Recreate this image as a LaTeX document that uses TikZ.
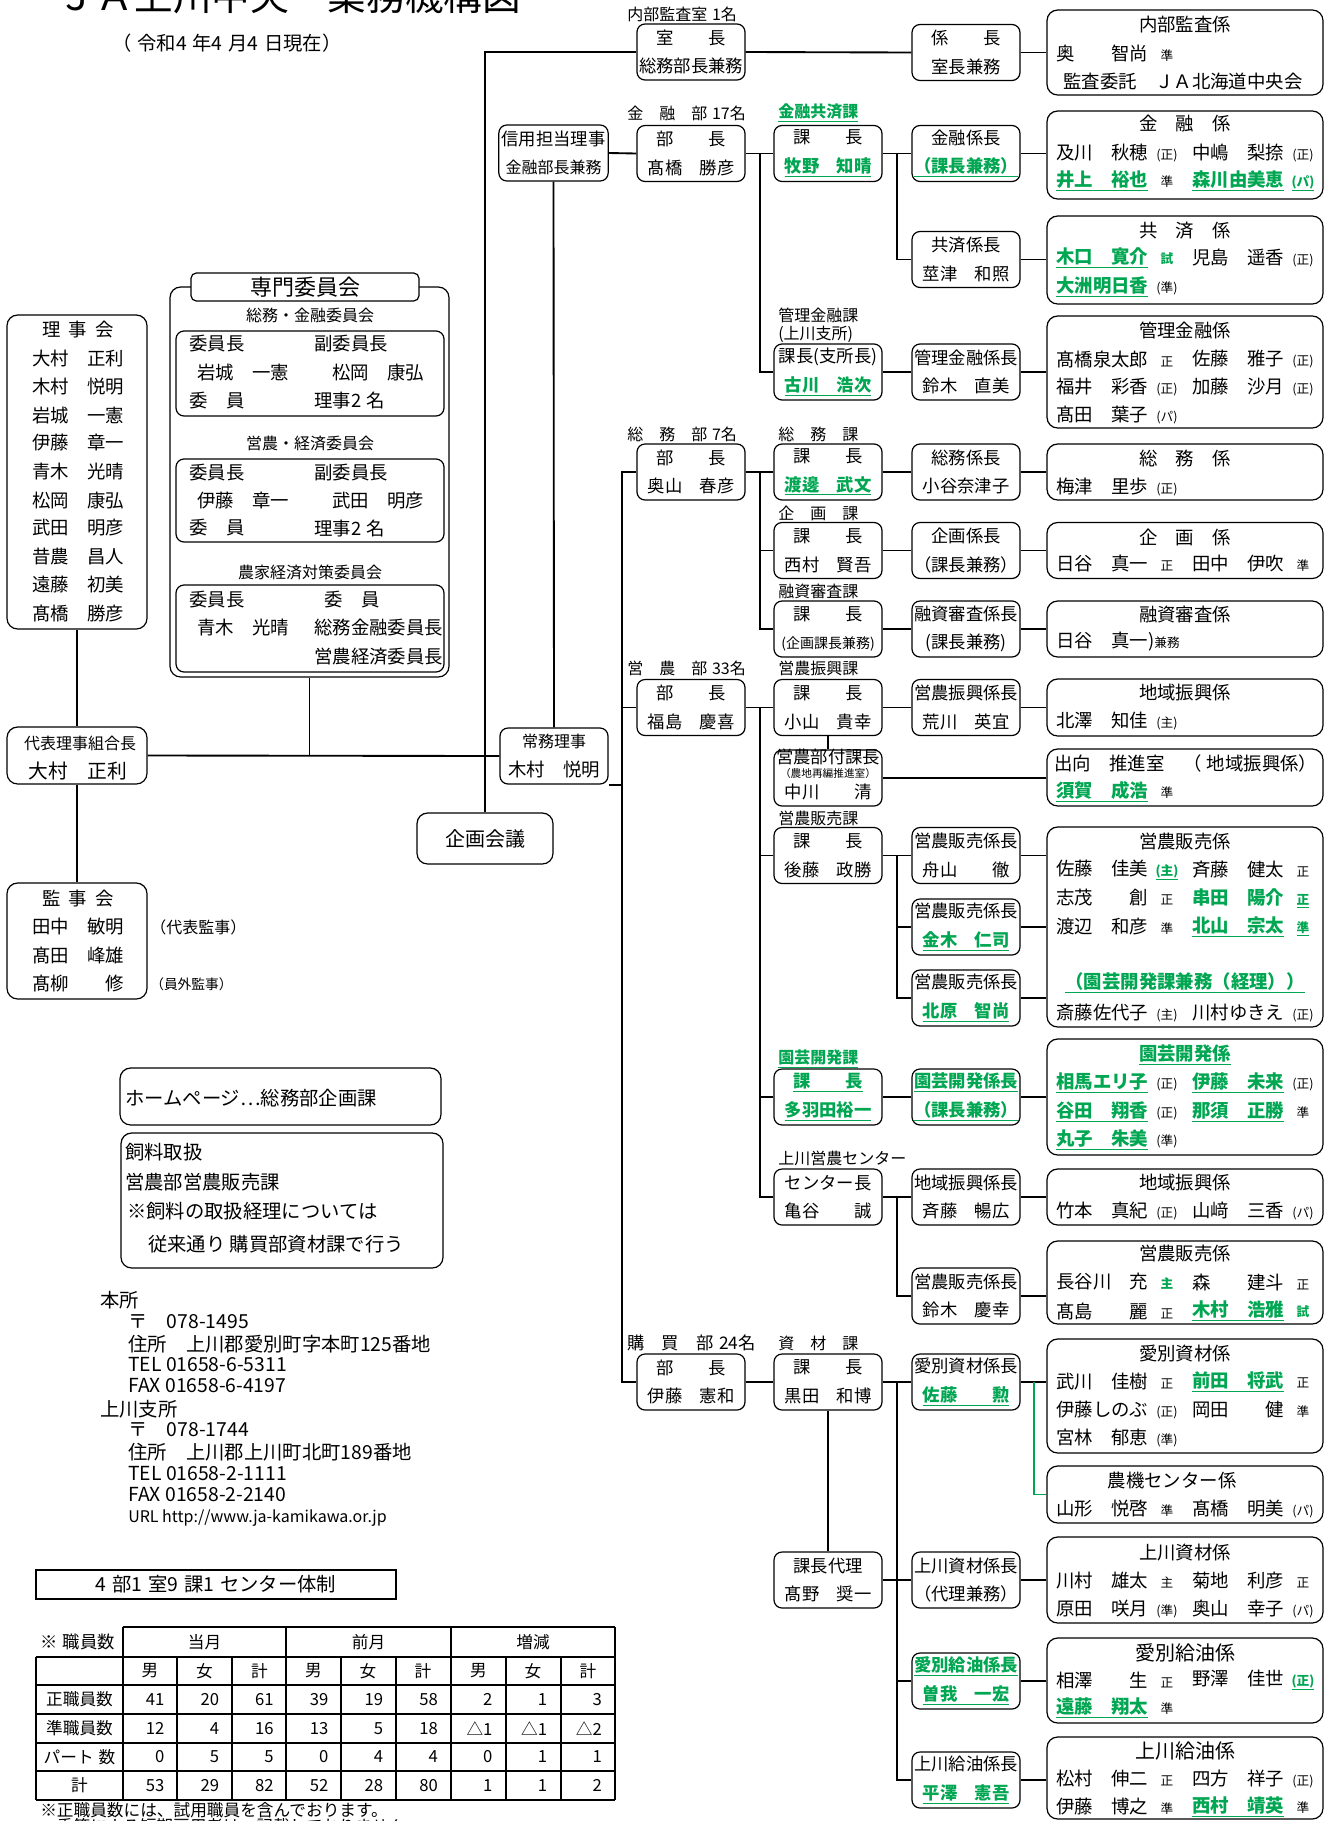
\documentclass[tikz,border=0pt]{standalone}
\usepackage{fontspec}
\setmainfont{Noto Sans CJK JP}
\newfontfamily\gfont{Noto Sans CJK JP}
\definecolor{jagreen}{RGB}{0,166,81}
\newcommand{\fbx}{\fontsize{13pt}{21.5pt}\selectfont}
\newcommand{\fnm}{\fontsize{13.8pt}{16pt}\selectfont}
\newcommand{\flb}{\fontsize{12pt}{14pt}\selectfont}
\newcommand{\fmk}{\fontsize{9.5pt}{10pt}\selectfont}
\newcommand{\ftx}{\fontsize{14.5pt}{16pt}\selectfont}
\newcommand{\ftb}{\fontsize{12.5pt}{14pt}\selectfont}
\newcommand{\gr}[1]{{\gfont\bfseries\color{jagreen}\underline{#1}}}
\newcommand{\gn}[1]{{\gfont\bfseries\color{jagreen}#1}}
\newcommand{\mk}[1]{\hspace{5pt}\makebox[18pt]{\fmk #1}}
\newcommand{\gap}{\hspace{0.3em}}
\begin{document}
\begin{tikzpicture}[x=0.75pt, y=-0.75pt,
    bx/.style={draw, line width=0.9pt, rounded corners=6pt, minimum width=81pt, minimum height=42pt, inner sep=0pt, align=center, font=\fbx},
    kk/.style={draw, line width=0.9pt, rounded corners=8pt, minimum width=207pt, inner sep=0pt},
    lf/.style={draw, line width=0.9pt, rounded corners=8pt, inner sep=0pt},
    nm/.style={anchor=west, inner sep=0pt, font=\fnm},
    ti/.style={inner sep=0pt, font=\fnm},
    lb/.style={anchor=west, inner sep=0pt, font=\flb},
    tx/.style={anchor=west, inner sep=0pt, font=\ftx},
    num/.style={anchor=east, inner sep=0pt, font=\ftb},
    ln/.style={line width=1.4pt},
    tb/.style={line width=0.8pt}]
    \useasboundingbox (0,0) rectangle (1329,1821);

    % title
    \node[anchor=west, inner sep=0pt, font=\fontsize{29pt}{29pt}\selectfont] (title) at (57,-4) {ＪＡ上川中央　業務機構図};
    \node[anchor=west, inner sep=0pt, font=\fontsize{14.5pt}{15pt}\selectfont] (date) at (112,43) {（\gap 令和4\gap 年4\gap 月4\gap 日現在）};

    % board
    \node[lf, minimum width=105pt, minimum height=235.5pt] (riji) at (77,472) {};
    \node[ti] (riji-t) at (78,330) {理\hspace{0.45em}事\hspace{0.45em}会};
    \node[ti] (riji-1) at (78,359) {大村　正利};
    \node[ti] (riji-2) at (78,387) {木村　悦明};
    \node[ti] (riji-3) at (78,416) {岩城　一憲};
    \node[ti] (riji-4) at (78,443) {伊藤　章一};
    \node[ti] (riji-5) at (78,472) {青木　光晴};
    \node[ti] (riji-6) at (78,501) {松岡　康弘};
    \node[ti] (riji-7) at (78,528) {武田　明彦};
    \node[ti] (riji-8) at (78,557) {昔農　昌人};
    \node[ti] (riji-9) at (78,585) {遠藤　初美};
    \node[ti] (riji-10) at (78,614) {髙橋　勝彦};

    \node[lf, minimum width=105pt, minimum height=42.75pt] (daihyo) at (77,755.5) {};
    \node[ti, font=\fontsize{12pt}{12pt}\selectfont] (daihyo-t) at (80,743) {代表理事組合長};
    \node[ti, font=\fontsize{14.8pt}{15pt}\selectfont] (daihyo-n) at (78,771) {大村　正利};

    \node[lf, minimum width=105pt, minimum height=87pt] (kanji) at (77,941) {};
    \node[ti] (kanji-t) at (78,899) {監\hspace{0.45em}事\hspace{0.45em}会};
    \node[ti] (kanji-1) at (78,927) {田中　敏明};
    \node[ti] (kanji-2) at (78,956) {髙田　峰雄};
    \node[ti] (kanji-3) at (78,984) {髙柳　　修};
    \node[anchor=west, inner sep=0pt, font=\fontsize{12pt}{12pt}\selectfont] (kanji-1n) at (150,927) {（代表監事）};
    \node[anchor=west, inner sep=0pt, font=\fontsize{10.3pt}{11pt}\selectfont] (kanji-3n) at (150,984) {（員外監事）};

    % committees
    \node[lf, minimum width=209.25pt, minimum height=292.5pt] (senmon) at (309.5,482) {};
    \node[draw, fill=white, line width=0.9pt, rounded corners=4pt, minimum width=171pt, minimum height=21pt, inner sep=0pt, font=\fontsize{16.5pt}{17pt}\selectfont] (senmon-t) at (305,287) {専門委員会};
    \node[ti, font=\flb] (iin1-t) at (310,315) {総務・金融委員会};
    \node[lf, rounded corners=6pt, minimum width=201pt, minimum height=63.75pt] (iin1) at (310,373.5) {};
    \node[nm] (iin1-a) at (189,344) {委員長};
    \node[nm] (iin1-b) at (314,344) {副委員長};
    \node[nm] (iin1-c) at (197,373) {岩城　一憲};
    \node[nm] (iin1-d) at (332,373) {松岡　康弘};
    \node[nm] (iin1-e) at (189,401) {委　員};
    \node[nm] (iin1-f) at (314,401) {理事2\gap 名};
    \node[ti, font=\flb] (iin2-t) at (310,443) {営農・経済委員会};
    \node[lf, rounded corners=6pt, minimum width=201pt, minimum height=62.25pt] (iin2) at (310,500.5) {};
    \node[nm] (iin2-a) at (189,473) {委員長};
    \node[nm] (iin2-b) at (314,473) {副委員長};
    \node[nm] (iin2-c) at (197,501) {伊藤　章一};
    \node[nm] (iin2-d) at (332,501) {武田　明彦};
    \node[nm] (iin2-e) at (189,528) {委　員};
    \node[nm] (iin2-f) at (314,528) {理事2\gap 名};
    \node[ti, font=\flb] (iin3-t) at (310,572) {農家経済対策委員会};
    \node[lf, rounded corners=6pt, minimum width=201pt, minimum height=65.25pt] (iin3) at (310,628.5) {};
    \node[nm] (iin3-a) at (189,600) {委員長};
    \node[nm] (iin3-b) at (324,600) {委　員};
    \node[nm] (iin3-c) at (197,628) {青木　光晴};
    \node[nm] (iin3-d) at (314,628) {総務金融委員長};
    \node[nm] (iin3-e) at (314,657) {営農経済委員長};

    % directors
    \node[bx, minimum width=82pt] (shinyo) at (553.5,153) {信用担当理事\\{\fontsize{12pt}{12pt}\selectfont 金融部長兼務}};
    \node[bx] (jomu) at (554,756) {{\fontsize{12pt}{12pt}\selectfont 常務理事}\\{\fnm 木村　悦明}};
    \node[lf, minimum width=102pt, minimum height=38.25pt, font=\fontsize{15pt}{15pt}\selectfont] (kaigi) at (485,838.5) {企画会議};
    \coordinate (spine) at (622,0);
    \coordinate (xa) at (760,0);
    \coordinate (xb) at (897,0);

    % internal audit
    \node[lb] (l-kansa) at (627,14) {内部監査室\gap 1名};
    \node[bx] (shitsu) at (691,52) {室　　長\\総務部長兼務};
    \node[bx] (kc0) at (966,52.5) {係　　長\\室長兼務};
    \node[kk, minimum height=63.75pt] (kansa) at (1185,52.5) {};
    \node[ti] (kansa-t) at (1185,25) {内部監査係};
    \node[nm] (kansa-1) at (1056,53) {奥　　智尚\mk{準}};
    \node[nm] (kansa-2) at (1063,82) {監査委託　ＪＡ北海道中央会};

    % finance
    \node[lb] (l-kin) at (627,113) {金　融　部\gap 17名};
    \node[lb] (l-kinka) at (778,113) {\gr{金融共済課}};
    \node[bx] (bu1) at (691,153.5) {部　　長\\髙橋　勝彦};
    \node[bx] (ka1) at (828,153.5) {課　　長\\\gr{牧野　知晴}};
    \node[bx] (kc1) at (966,153.5) {金融係長\\\gr{（課長兼務）}};
    \node[kk, minimum height=66pt] (kin) at (1185,155) {};
    \node[ti] (kin-t) at (1185,124) {金　融　係};
    \node[nm] (kin-1l) at (1056,153) {及川　秋穂\mk{(正)}};
    \node[nm] (kin-1r) at (1192,153) {中嶋　梨捺\mk{(正)}};
    \node[nm] (kin-2l) at (1056,181) {\gr{井上　裕也}\mk{準}};
    \node[nm] (kin-2r) at (1192,181) {\gr{森川由美恵}\mk{\gr{(パ)}}};

    \node[bx] (kc2) at (966,259.5) {共済係長\\莖津　和照};
    \node[kk, minimum height=66pt] (kyo) at (1185,260) {};
    \node[ti] (kyo-t) at (1185,231) {共　済　係};
    \node[nm] (kyo-1l) at (1056,258) {\gr{木口　寛介}\mk{\gn{試}}};
    \node[nm] (kyo-1r) at (1192,258) {児島　遥香\mk{(正)}};
    \node[nm] (kyo-2l) at (1056,287) {\gr{大洲明日香}\mk{(準)}};

    \node[lb] (l-kanri) at (778,315) {管理金融課};
    \node[lb] (l-kanri2) at (778,334) {(上川支所)};
    \node[bx] (ka3) at (828,372) {課長(支所長)\\\gr{古川　浩次}};
    \node[bx] (kc3) at (966,372) {管理金融係長\\鈴木　直美};
    \node[kk, minimum height=84pt] (kanri) at (1185,372) {};
    \node[ti] (kanri-t) at (1185,330) {管理金融係};
    \node[nm] (kanri-1l) at (1056,359) {髙橋泉太郎\mk{正}};
    \node[nm] (kanri-1r) at (1192,359) {佐藤　雅子\mk{(正)}};
    \node[nm] (kanri-2l) at (1056,387) {福井　彩香\mk{(正)}};
    \node[nm] (kanri-2r) at (1192,387) {加藤　沙月\mk{(正)}};
    \node[nm] (kanri-3l) at (1056,415) {髙田　葉子\mk{(パ)}};

    % general affairs
    \node[lb] (l-somu) at (627,434) {総　務　部\gap 7名};
    \node[lb] (l-somuka) at (778,434) {総　務　課};
    \node[bx] (bu4) at (691,472) {部　　長\\奥山　春彦};
    \node[bx] (ka4) at (828,472) {課　　長\\\gr{渡邊　武文}};
    \node[bx] (kc4) at (966,472) {総務係長\\小谷奈津子};
    \node[kk, minimum height=42pt] (somu) at (1185,472) {};
    \node[ti] (somu-t) at (1185,458) {総　務　係};
    \node[nm] (somu-1l) at (1056,487) {梅津　里歩\mk{(正)}};

    \node[lb] (l-kiku) at (778,513) {企　画　課};
    \node[bx] (ka5) at (828,550.5) {課　　長\\西村　賢吾};
    \node[bx] (kc5) at (966,550.5) {企画係長\\（課長兼務）};
    \node[kk, minimum height=42pt] (kiku) at (1185,550.5) {};
    \node[ti] (kiku-t) at (1185,537) {企　画　係};
    \node[nm] (kiku-1l) at (1056,564) {日谷　真一\mk{正}};
    \node[nm] (kiku-1r) at (1192,564) {田中　伊吹\mk{準}};

    \node[lb] (l-yushi) at (778,591) {融資審査課};
    \node[bx] (ka6) at (828,629) {課　　長\\{\fontsize{10.5pt}{10.5pt}\selectfont (企画課長兼務)}};
    \node[bx] (kc6) at (966,629) {融資審査係長\\(課長兼務)};
    \node[kk, minimum height=42pt] (yushi) at (1185,629) {};
    \node[ti] (yushi-t) at (1185,615) {融資審査係};
    \node[nm] (yushi-1l) at (1056,642) {日谷　真一){\fmk 兼務}};

    % farming
    \node[lb] (l-eino) at (627,668) {営　農　部\gap 33名};
    \node[lb] (l-shinko) at (778,668) {営農振興課};
    \node[bx] (bu7) at (691,707.5) {部　　長\\福島　慶喜};
    \node[bx] (ka7) at (828,707.5) {課　　長\\小山　貴幸};
    \node[bx] (kc7) at (966,707.5) {営農振興係長\\荒川　英宜};
    \node[kk, minimum height=42.75pt] (chiiki) at (1185,707.5) {};
    \node[ti] (chiiki-t) at (1185,693) {地域振興係};
    \node[nm] (chiiki-1l) at (1056,721) {北澤　知佳\mk{(主)}};

    \node[lf, rounded corners=6pt, minimum width=81pt, minimum height=42pt] (ka8) at (828,778) {};
    \node[ti, font=\fbx] (ka8-t) at (828,757) {営農部付課長};
    \node[ti, font=\fontsize{8pt}{8pt}\selectfont] (ka8-s) at (828,773) {（農地再編推進室）};
    \node[ti, font=\fbx] (ka8-n) at (828,792) {中川　　清};
    \node[kk, minimum height=42.75pt] (shukko) at (1185,777.5) {};
    \node[nm] (shukko-1) at (1054,763) {出向　推進室　（\gap 地域振興係）};
    \node[nm] (shukko-2) at (1056,792) {\gr{須賀　成浩}\mk{準}};

    \node[lb] (l-hanbai) at (778,818) {営農販売課};
    \node[bx] (ka9) at (828,855.5) {課　　長\\後藤　政勝};
    \node[bx] (kc9) at (966,855.5) {営農販売係長\\舟山　　徹};
    \node[bx] (kc9b) at (966,927) {営農販売係長\\\gr{金木　仁司}};
    \node[bx] (kc9c) at (966,998) {営農販売係長\\\gr{北原　智尚}};
    \node[kk, minimum height=150pt] (hanbai) at (1185,927) {};
    \node[ti] (hanbai-t) at (1185,842) {営農販売係};
    \node[nm] (hanbai-1l) at (1056,870) {佐藤　佳美\mk{\gr{(主)}}};
    \node[nm] (hanbai-1r) at (1192,870) {斉藤　健太\mk{正}};
    \node[nm] (hanbai-2l) at (1056,898) {志茂　　創\mk{正}};
    \node[nm] (hanbai-2r) at (1192,898) {\gn{串田　陽介}\mk{\gr{正}}};
    \node[nm] (hanbai-3l) at (1056,927) {渡辺　和彦\mk{準}};
    \node[nm] (hanbai-3r) at (1192,927) {\gr{北山　宗太}\mk{\gr{準}}};
    \node[ti] (hanbai-4) at (1185,983) {\gr{（園芸開発課兼務（経理））}};
    \node[nm] (hanbai-5l) at (1056,1013) {斎藤佐代子\mk{(主)}};
    \node[nm] (hanbai-5r) at (1192,1013) {川村ゆきえ\mk{(正)}};

    \node[lb] (l-engei) at (778,1059) {\gr{園芸開発課}};
    \node[bx] (ka10) at (828,1097) {\gr{課　　長}\\\gr{多羽田裕一}};
    \node[bx] (kc10) at (966,1097) {\gr{園芸開発係長}\\\gr{（課長兼務）}};
    \node[kk, minimum height=87pt] (engei) at (1185,1097) {};
    \node[ti] (engei-t) at (1185,1055) {\gr{園芸開発係}};
    \node[nm] (engei-1l) at (1056,1083) {\gr{相馬エリ子}\mk{(正)}};
    \node[nm] (engei-1r) at (1192,1083) {\gr{伊藤　未来}\mk{(正)}};
    \node[nm] (engei-2l) at (1056,1112) {\gr{谷田　翔香}\mk{(正)}};
    \node[nm] (engei-2r) at (1192,1112) {\gr{那須　正勝}\mk{準}};
    \node[nm] (engei-3l) at (1056,1140) {\gr{丸子　朱美}\mk{(準)}};

    \node[lb] (l-center) at (778,1158) {上川営農センター};
    \node[bx] (ka11) at (828,1197) {センター長\\亀谷　　誠};
    \node[bx] (kc11) at (966,1197) {地域振興係長\\斉藤　暢広};
    \node[kk, minimum height=42pt] (chiiki2) at (1185,1197) {};
    \node[ti] (chiiki2-t) at (1185,1183) {地域振興係};
    \node[nm] (chiiki2-1l) at (1056,1211) {竹本　真紀\mk{(正)}};
    \node[nm] (chiiki2-1r) at (1192,1211) {山﨑　三香\mk{(パ)}};
    \node[bx] (kc12) at (966,1296) {営農販売係長\\鈴木　慶幸};
    \node[kk, minimum height=62.25pt] (hanbai2) at (1185,1282.5) {};
    \node[ti] (hanbai2-t) at (1185,1254) {営農販売係};
    \node[nm] (hanbai2-1l) at (1056,1282) {長谷川　充\mk{\gn{主}}};
    \node[nm] (hanbai2-1r) at (1192,1282) {森　　建斗\mk{正}};
    \node[nm] (hanbai2-2l) at (1056,1311) {髙島　　麗\mk{正}};
    \node[nm] (hanbai2-2r) at (1192,1311) {\gr{木村　浩雅}\mk{\gn{試}}};

    % purchasing
    \node[lb, font=\fontsize{13pt}{14pt}\selectfont] (l-kobai) at (627,1343) {購　買　部\gap 24名};
    \node[lb] (l-shizai) at (778,1343) {資　材　課};
    \node[bx] (bu13) at (691,1382) {部　　長\\伊藤　憲和};
    \node[bx] (ka13) at (828,1382) {課　　長\\黒田　和博};
    \node[bx] (kc13) at (966,1382) {愛別資材係長\\\gr{佐藤　　勲}};
    \node[kk, minimum height=85.5pt] (aizai) at (1185,1396) {};
    \node[ti] (aizai-t) at (1185,1354) {愛別資材係};
    \node[nm] (aizai-1l) at (1056,1382) {武川　佳樹\mk{正}};
    \node[nm] (aizai-1r) at (1192,1382) {\gr{前田　将武}\mk{正}};
    \node[nm] (aizai-2l) at (1056,1410) {伊藤しのぶ\mk{(正)}};
    \node[nm] (aizai-2r) at (1192,1410) {岡田　　健\mk{準}};
    \node[nm] (aizai-3l) at (1056,1438) {宮林　郁恵\mk{(準)}};
    \node[kk, minimum height=42.75pt] (noki) at (1185,1494.5) {};
    \node[ti] (noki-t) at (1172,1481) {農機センター係};
    \node[nm] (noki-1l) at (1056,1509) {山形　悦啓\mk{準}};
    \node[nm] (noki-1r) at (1192,1509) {髙橋　明美\mk{(パ)}};

    \node[bx] (ka14) at (828,1580) {課長代理\\髙野　奨一};
    \node[bx] (kc14) at (966,1580) {上川資材係長\\（代理兼務）};
    \node[kk, minimum height=64.5pt] (kamizai) at (1185,1580) {};
    \node[ti] (kamizai-t) at (1185,1553) {上川資材係};
    \node[nm] (kamizai-1l) at (1056,1581) {川村　雄太\mk{主}};
    \node[nm] (kamizai-1r) at (1192,1581) {菊地　利彦\mk{正}};
    \node[nm] (kamizai-2l) at (1056,1609) {原田　咲月\mk{(準)}};
    \node[nm] (kamizai-2r) at (1192,1609) {奥山　幸子\mk{(パ)}};

    \node[bx] (kc15) at (966,1681) {\gr{愛別給油係長}\\\gr{曽我　一宏}};
    \node[kk, minimum height=63.75pt] (aikyu) at (1185,1680.5) {};
    \node[ti, font=\fontsize{15pt}{16pt}\selectfont] (aikyu-t) at (1185,1653) {愛別給油係};
    \node[nm] (aikyu-1l) at (1056,1680) {相澤　　生\mk{正}};
    \node[nm] (aikyu-1r) at (1192,1680) {野澤　佳世\mk{\gr{(正)}}};
    \node[nm] (aikyu-2l) at (1056,1708) {\gr{遠藤　翔太}\mk{準}};

    \node[bx] (kc16) at (966,1780) {上川給油係長\\\gr{平澤　憲吾}};
    \node[kk, minimum height=61.5pt] (kamikyu) at (1185,1778) {};
    \node[ti, font=\fontsize{15pt}{16pt}\selectfont] (kamikyu-t) at (1185,1751) {上川給油係};
    \node[nm] (kamikyu-1l) at (1056,1779) {松村　伸二\mk{正}};
    \node[nm] (kamikyu-1r) at (1192,1779) {四方　祥子\mk{(正)}};
    \node[nm] (kamikyu-2l) at (1056,1807) {伊藤　博之\mk{準}};
    \node[nm] (kamikyu-2r) at (1192,1807) {\gr{西村　靖英}\mk{準}};

    % connectors, left
    \draw[ln] (riji.south) -- (daihyo.north);
    \draw[ln] (daihyo.south) -- (kanji.north);
    \draw[ln] (daihyo.east) -- (jomu.west);
    \draw[ln] (senmon.south) -- (senmon.south |- daihyo.east);
    \draw[ln] (kaigi.north) |- (shitsu.west);
    \draw[ln] (shinyo.south) -- (jomu.north);
    \draw[ln] (jomu.south east) -- (jomu.south east -| spine);
    \draw[ln] (bu4.west) -| (spine |- bu13.west) -- (bu13.west);
    \draw[ln] (bu7.west) -- (bu7.west -| spine);

    % connectors, right
    \draw[ln] (shitsu.east) -- (kc0.west);
    \draw[ln] (kc0.east) -- (kc0.east -| kansa.west);
    \draw[ln] (shinyo.east) -- (bu1.west);
    \draw[ln] (bu1.east) -- (ka1.west);
    \draw[ln] (ka1.east) -- (kc1.west);
    \draw[ln] (kc1.east) -- (kc1.east -| kin.west);
    \draw[ln] (kc2.west) -| (xb |- ka1.east);
    \draw[ln] (kc2.east) -- (kc2.east -| kyo.west);
    \draw[ln] (ka3.west) -| (xa |- bu1.east);
    \draw[ln] (ka3.east) -- (kc3.west);
    \draw[ln] (kc3.east) -- (kc3.east -| kanri.west);
    \draw[ln] (bu4.east) -- (ka4.west);
    \draw[ln] (ka4.east) -- (kc4.west);
    \draw[ln] (kc4.east) -- (kc4.east -| somu.west);
    \draw[ln] (ka5.west) -| (xa |- bu4.east);
    \draw[ln] (ka5.east) -- (kc5.west);
    \draw[ln] (kc5.east) -- (kc5.east -| kiku.west);
    \draw[ln] (ka6.west) -| (xa |- bu4.east);
    \draw[ln] (ka6.east) -- (kc6.west);
    \draw[ln] (kc6.east) -- (kc6.east -| yushi.west);
    \draw[ln] (bu7.east) -- (ka7.west);
    \draw[ln] (ka7.east) -- (kc7.west);
    \draw[ln] (kc7.east) -- (kc7.east -| chiiki.west);
    \draw[ln] (ka7.south) -- (ka8.north);
    \draw[ln] (ka8.east) -- (ka8.east -| shukko.west);
    \draw[ln] (ka9.west) -| (xa |- bu7.east);
    \draw[ln] (ka9.east) -- (kc9.west);
    \draw[ln] (kc9c.west) -| (xb |- ka9.east);
    \draw[ln] (kc9b.west) -- (kc9b.west -| xb);
    \draw[ln] (kc9.east) -- (kc9.east -| hanbai.west);
    \draw[ln] (kc9b.east) -- (kc9b.east -| hanbai.west);
    \draw[ln] (kc9c.east) -- (kc9c.east -| hanbai.west);
    \draw[ln] (ka10.west) -| (xa |- bu7.east);
    \draw[ln] (ka10.east) -- (kc10.west);
    \draw[ln] (kc10.east) -- (kc10.east -| engei.west);
    \draw[ln] (ka11.west) -| (xa |- bu7.east);
    \draw[ln] (ka11.east) -- (kc11.west);
    \draw[ln] (kc11.east) -- (kc11.east -| chiiki2.west);
    \draw[ln] (kc12.west) -| (xb |- ka11.east);
    \draw[ln] (kc12.east) -- (kc12.east -| hanbai2.west);
    \draw[ln] (bu13.east) -- (ka13.west);
    \draw[ln] (ka13.east) -- (kc13.west);
    \draw[ln] (kc13.east) -- (kc13.east -| aizai.west);
    \draw[ln, jagreen] (kc13.east) ++(13,0) |- (noki.west);
    \draw[ln] (ka13.south) -- (ka14.north);
    \draw[ln] (kc16.west) -| (xb |- ka13.east);
    \draw[ln] (ka14.east) -- (kc14.west);
    \draw[ln] (kc14.east) -- (kc14.east -| kamizai.west);
    \draw[ln] (kc15.west) -- (kc15.west -| xb);
    \draw[ln] (kc15.east) -- (kc15.east -| aikyu.west);
    \draw[ln] (kc16.east) -- (kc16.east -| kamikyu.west);

    % notes
    \node[lf, minimum width=240.75pt, minimum height=42.75pt] (hp) at (280.5,1096.5) {};
    \node[tx] (hp-t) at (125,1098) {ホームページ…総務部企画課};
    \node[lf, minimum width=241.5pt, minimum height=101.25pt] (shiryo) at (282,1200.5) {};
    \node[tx] (shiryo-1) at (125,1152) {飼料取扱};
    \node[tx] (shiryo-2) at (125,1182) {営農部営農販売課};
    \node[tx] (shiryo-3) at (127,1211) {※飼料の取扱経理については};
    \node[tx] (shiryo-4) at (148,1244) {従来通り 購買部資材課で行う};

    % addresses
    \node[tx] (honsho) at (100,1300) {本所};
    \node[tx] (honsho-1) at (128,1322) {〒　078-1495};
    \node[tx] (honsho-2) at (128,1344) {住所　上川郡愛別町字本町125番地};
    \node[tx] (honsho-3) at (128,1365) {TEL 01658-6-5311};
    \node[tx] (honsho-4) at (128,1386) {FAX 01658-6-4197};
    \node[tx] (shisho) at (100,1409) {上川支所};
    \node[tx] (shisho-1) at (128,1430) {〒　078-1744};
    \node[tx] (shisho-2) at (128,1452) {住所　上川郡上川町北町189番地};
    \node[tx] (shisho-3) at (128,1474) {TEL 01658-2-1111};
    \node[tx] (shisho-4) at (128,1495) {FAX 01658-2-2140};
    \node[tx, font=\fontsize{12pt}{12pt}\selectfont] (url) at (128,1518) {URL http://www.ja-kamikawa.or.jp};

    \node[draw, line width=0.9pt, minimum width=270pt, minimum height=21.75pt, inner sep=0pt, font=\ftx] (taisei) at (216,1584.5) {4\gap 部1\gap 室9\gap 課1\gap センター体制};

    % staff table
    \draw[tb] (123,1627) -- (615,1627);
    \foreach \yy in {1657,1685,1714,1743,1771,1800} \draw[tb] (36,\yy) -- (615,\yy);
    \draw[tb] (36,1657) -- (36,1800);
    \foreach \xx in {123,286,451,615} \draw[tb] (\xx,1627) -- (\xx,1800);
    \foreach \xx in {177,232,341,396,506,561} \draw[tb] (\xx,1657) -- (\xx,1800);
    \node[anchor=west, inner sep=0pt, font=\fontsize{13pt}{14pt}\selectfont] (shokuin) at (40,1642) {※\gap 職員数};
    \node[inner sep=0pt, font=\ftb] (h-togetsu) at (204.5,1642) {当月};
    \node[inner sep=0pt, font=\ftb] (h-zengetsu) at (368.5,1642) {前月};
    \node[inner sep=0pt, font=\ftb] (h-zogen) at (533,1642) {増減};
    \foreach \cx in {150,313.5,478.5} {
        \node[inner sep=0pt, font=\ftb] at (\cx,1671) {男};
        \node[inner sep=0pt, font=\ftb] at (\cx+54.5,1671) {女};
        \node[inner sep=0pt, font=\ftb] at (\cx+109.5,1671) {計};
    }
    \node[inner sep=0pt, font=\ftb] (r-sei) at (79.5,1699.5) {正職員数};
    \node[inner sep=0pt, font=\ftb] (r-jun) at (79.5,1728.5) {準職員数};
    \node[inner sep=0pt, font=\ftb] (r-part) at (79.5,1757) {パート\gap 数};
    \node[inner sep=0pt, font=\ftb] (r-kei) at (79.5,1785.5) {計};
    \foreach \v [count=\i] in {41,20,61,39,19,58,2,1,3} \node[num] at ({123+54.67*\i-13},1699.5) {\v};
    \foreach \v [count=\i] in {12,4,16,13,5,18,△1,△1,△2} \node[num] at ({123+54.67*\i-13},1728.5) {\v};
    \foreach \v [count=\i] in {0,5,5,0,4,4,0,1,1} \node[num] at ({123+54.67*\i-13},1757) {\v};
    \foreach \v [count=\i] in {53,29,82,52,28,80,1,1,2} \node[num] at ({123+54.67*\i-13},1785.5) {\v};
    \node[anchor=west, inner sep=0pt, font=\ftb] (note-1) at (40,1810) {※正職員数には、試用職員を含んでおります。};
    \node[anchor=west, inner sep=0pt, font=\ftb] (note-2) at (40,1826) {　季節による短期雇用者は、記載しておりません。};
\end{tikzpicture}
\end{document}
